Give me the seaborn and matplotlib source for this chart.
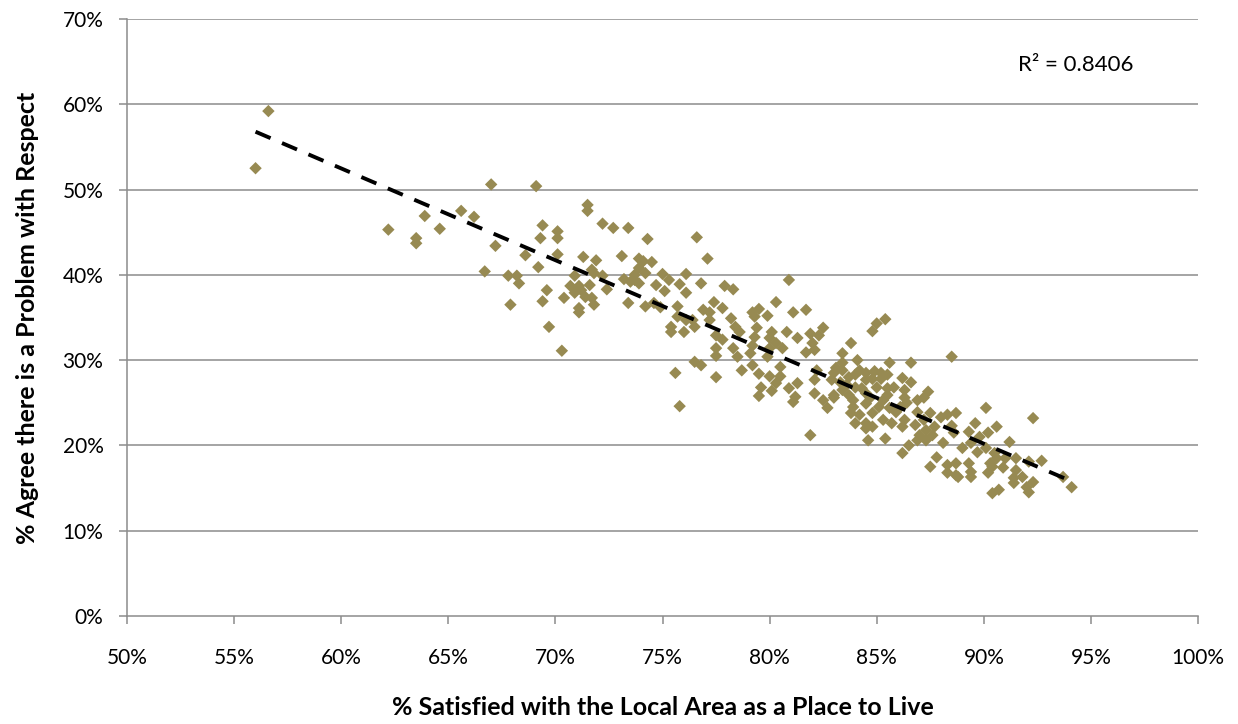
import numpy as np
import pandas as pd
import matplotlib
matplotlib.use("Agg")
import matplotlib.pyplot as plt
from matplotlib.ticker import PercentFormatter
import seaborn as sns

# % satisfied with the local area (x) and % agreeing there is a problem with respect (y)
satisfied = [
    56.6, 56.0, 62.2, 63.5, 63.5,
    67.0, 69.1, 63.9, 64.6, 65.6, 66.2, 67.2, 68.6, 69.4, 69.3, 70.1, 70.1, 70.1,
    66.7, 67.8, 68.2, 68.3, 69.2, 69.6, 69.4, 67.9, 69.7,
    71.5, 71.5, 72.2, 72.7, 73.4, 74.3, 76.6, 71.3, 71.9, 73.1, 73.9, 74.1, 74.5,
    73.9, 71.7, 71.8, 70.9, 72.2, 73.2, 73.7, 73.7, 73.9, 73.5, 74.2, 75.0, 75.3,
    76.1, 75.8, 74.7, 75.1, 76.1, 70.7, 71.1, 71.2, 70.9, 71.6, 72.4, 71.4, 71.7,
    71.8, 70.4, 71.1, 71.1, 73.4, 74.2, 74.6, 74.9, 75.7, 75.7, 76.1, 76.4, 76.5,
    75.4, 75.4, 76.0, 70.3, 76.5, 75.6, 75.8,
    77.1, 80.9, 76.8, 77.9, 78.3, 77.4, 76.9, 77.2, 77.8, 80.3, 81.1, 79.2, 79.5,
    79.3, 79.9, 78.2, 77.2, 79.4, 78.4, 78.6, 77.5, 79.3, 80.1, 80.8, 81.3, 80.0,
    80.3, 80.6, 80.0, 78.3, 79.2, 77.5, 77.8, 79.1, 77.5, 79.9, 78.5, 80.5, 79.2,
    78.7, 77.5, 76.8, 79.5, 80.0, 80.5, 79.6, 80.3, 80.1, 79.5, 81.3, 80.9, 81.2,
    81.1,
    81.7, 85.4, 85.0, 84.8, 82.5, 81.9, 82.3, 82.0, 82.1, 81.7, 83.8, 83.4, 84.1,
    83.4, 85.6, 83.1, 83.0, 83.4, 83.7, 84.0, 84.2, 84.5, 84.9, 85.2, 85.5, 85.2,
    84.8, 84.5, 82.2, 82.1, 82.9, 83.3, 83.6, 84.0, 84.3, 85.0, 85.5, 85.8, 83.4,
    82.1, 83.0, 83.7, 84.5, 85.5, 83.9, 84.7, 82.5, 83.0, 85.3, 82.7, 83.9, 84.5,
    85.1, 85.6, 83.8, 84.2, 84.8, 85.9, 85.3, 84.0, 84.5, 84.8, 85.7, 84.5, 84.6,
    85.4, 81.9,
    88.5, 86.6, 86.2, 86.6, 86.3, 87.4, 87.2, 86.9, 86.3, 86.1, 86.4, 90.1, 86.9,
    87.5, 88.0, 88.3, 88.7, 86.3, 86.8, 87.2, 87.7, 89.6, 90.6, 86.2, 87.3, 88.5,
    87.0, 87.6, 88.6, 89.3, 90.2, 89.8, 86.9, 87.3, 86.5, 88.1, 89.0, 89.4, 90.1,
    86.2, 90.5, 87.8, 89.7, 87.5, 88.3, 89.3, 88.7, 90.3, 90.6, 88.7, 88.3, 88.8,
    89.4, 89.4, 90.2, 90.4, 90.4, 90.7,
    92.3, 91.2, 91.0, 91.5, 92.1, 92.7, 90.9, 91.5, 91.8, 91.4, 91.4, 92.3, 93.7,
    94.1, 92.0, 92.1,
]
problem_with_respect = [
    59.2, 52.5, 45.3, 44.3, 43.7,
    50.6, 50.4, 46.9, 45.4, 47.5, 46.8, 43.4, 42.3, 45.8, 44.3, 44.3, 45.1, 42.4,
    40.4, 39.9, 39.9, 39.0, 40.9, 38.2, 36.9, 36.5, 33.9,
    48.2, 47.5, 46.0, 45.5, 45.5, 44.2, 44.4, 42.1, 41.7, 42.2, 41.9, 41.6, 41.5,
    40.8, 40.6, 40.2, 39.9, 39.9, 39.5, 40.0, 39.4, 39.0, 39.2, 40.2, 40.1, 39.4,
    40.1, 38.9, 38.8, 38.1, 37.9, 38.7, 38.7, 38.2, 37.9, 38.8, 38.3, 37.4, 37.3,
    36.5, 37.3, 36.1, 35.6, 36.7, 36.3, 36.7, 36.2, 36.3, 35.1, 34.7, 34.7, 33.9,
    33.9, 33.3, 33.3, 31.1, 29.8, 28.5, 24.6,
    41.9, 39.4, 39.0, 38.7, 38.3, 36.8, 35.9, 35.6, 36.1, 36.8, 35.6, 35.6, 36.0,
    35.1, 35.2, 34.9, 34.7, 33.8, 33.9, 33.3, 32.9, 32.7, 33.3, 33.3, 32.6, 32.6,
    32.0, 31.4, 31.4, 31.4, 31.7, 31.4, 32.4, 30.8, 30.5, 30.4, 30.4, 29.2, 29.4,
    28.8, 28.0, 29.4, 28.4, 28.1, 28.1, 26.8, 27.3, 26.4, 25.8, 27.3, 26.7, 25.7,
    25.1,
    35.9, 34.8, 34.3, 33.4, 33.8, 33.1, 32.9, 32.0, 31.2, 30.9, 32.0, 30.8, 30.0,
    29.7, 29.7, 29.1, 28.5, 28.8, 28.0, 28.3, 28.8, 28.5, 28.7, 28.5, 28.3, 27.8,
    27.8, 27.7, 28.8, 27.7, 27.7, 27.4, 27.1, 26.8, 26.7, 26.8, 26.7, 26.8, 26.5,
    26.1, 25.9, 25.9, 26.1, 25.9, 25.3, 25.6, 25.3, 25.6, 25.3, 24.4, 24.5, 24.9,
    24.5, 24.4, 23.8, 23.6, 23.8, 23.9, 23.0, 22.6, 22.6, 22.2, 22.6, 22.0, 20.6,
    20.8, 21.2,
    30.4, 29.7, 27.9, 27.4, 26.5, 26.3, 25.6, 25.3, 25.6, 24.5, 25.0, 24.4, 23.9,
    23.8, 23.3, 23.6, 23.8, 23.0, 22.4, 23.0, 22.2, 22.6, 22.2, 22.2, 21.8, 22.3,
    21.2, 21.2, 21.5, 21.6, 21.5, 21.0, 20.6, 20.6, 20.0, 20.3, 19.7, 20.3, 19.7,
    19.1, 19.1, 18.6, 19.2, 17.5, 17.7, 17.9, 17.9, 17.9, 18.5, 16.5, 16.8, 16.3,
    16.9, 16.3, 16.8, 17.5, 14.4, 14.8,
    23.2, 20.4, 18.5, 18.5, 18.1, 18.2, 17.4, 17.1, 16.3, 16.2, 15.6, 15.7, 16.3,
    15.1, 15.1, 14.5,
]

x_ticks = [50, 55, 60, 65, 70, 75, 80, 85, 90, 95, 100]
y_ticks = [0, 10, 20, 30, 40, 50, 60, 70]
r2_label = "R\u00b2 = 0.8406"
x_title = "% Satisfied with the Local Area as a Place to Live"
y_title = "% Agree there is a Problem with Respect"

df = pd.DataFrame({"satisfied": satisfied, "problem": problem_with_respect})

sns.set_theme(style="white")
plt.rcParams["font.family"] = ["Lato", "DejaVu Sans"]
plt.rcParams["text.color"] = "black"
plt.rcParams["axes.labelcolor"] = "black"

fig = plt.figure(figsize=(12.38, 7.24), dpi=100)
ax = fig.add_axes([0.1026, 0.1492, 0.8651, 0.8246])

grid_color = "#8c8c8c"
for yv in y_ticks[1:]:
    ax.axhline(yv, color=grid_color, lw=1.1, zorder=0)

sns.scatterplot(data=df, x="satisfied", y="problem", ax=ax, marker="D",
                s=40, color="#978a52", edgecolor="none", linewidth=0, zorder=2)

# linear trendline over the data range
sns.regplot(data=df, x="satisfied", y="problem", ax=ax, scatter=False, ci=None,
            truncate=True,
            line_kws=dict(color="black", lw=2.8, ls=(0, (4.2, 3.2)), zorder=3))

ax.set_xlim(50, 100)
ax.set_ylim(0, 70)
ax.set_xticks(x_ticks)
ax.set_yticks(y_ticks)
ax.xaxis.set_major_formatter(PercentFormatter(100, decimals=0))
ax.yaxis.set_major_formatter(PercentFormatter(100, decimals=0))

for side in ["top", "right"]:
    ax.spines[side].set_visible(False)
for side in ["left", "bottom"]:
    ax.spines[side].set_color(grid_color)
    ax.spines[side].set_linewidth(1.1)

ax.tick_params(axis="both", which="major", direction="out", length=6, width=1.1,
               color=grid_color, labelsize=15, labelcolor="black",
               bottom=True, left=True)
ax.tick_params(axis="x", pad=17)
ax.tick_params(axis="y", pad=11)

ax.set_xlabel(x_title, fontsize=18, fontweight="bold", color="black", labelpad=20)
ax.set_ylabel(y_title, fontsize=18, fontweight="bold", color="black", labelpad=17)

ax.text(91.6, 64.6, r2_label, fontsize=16, color="black", ha="left", va="center")

fig.savefig("out.png", dpi=100)
